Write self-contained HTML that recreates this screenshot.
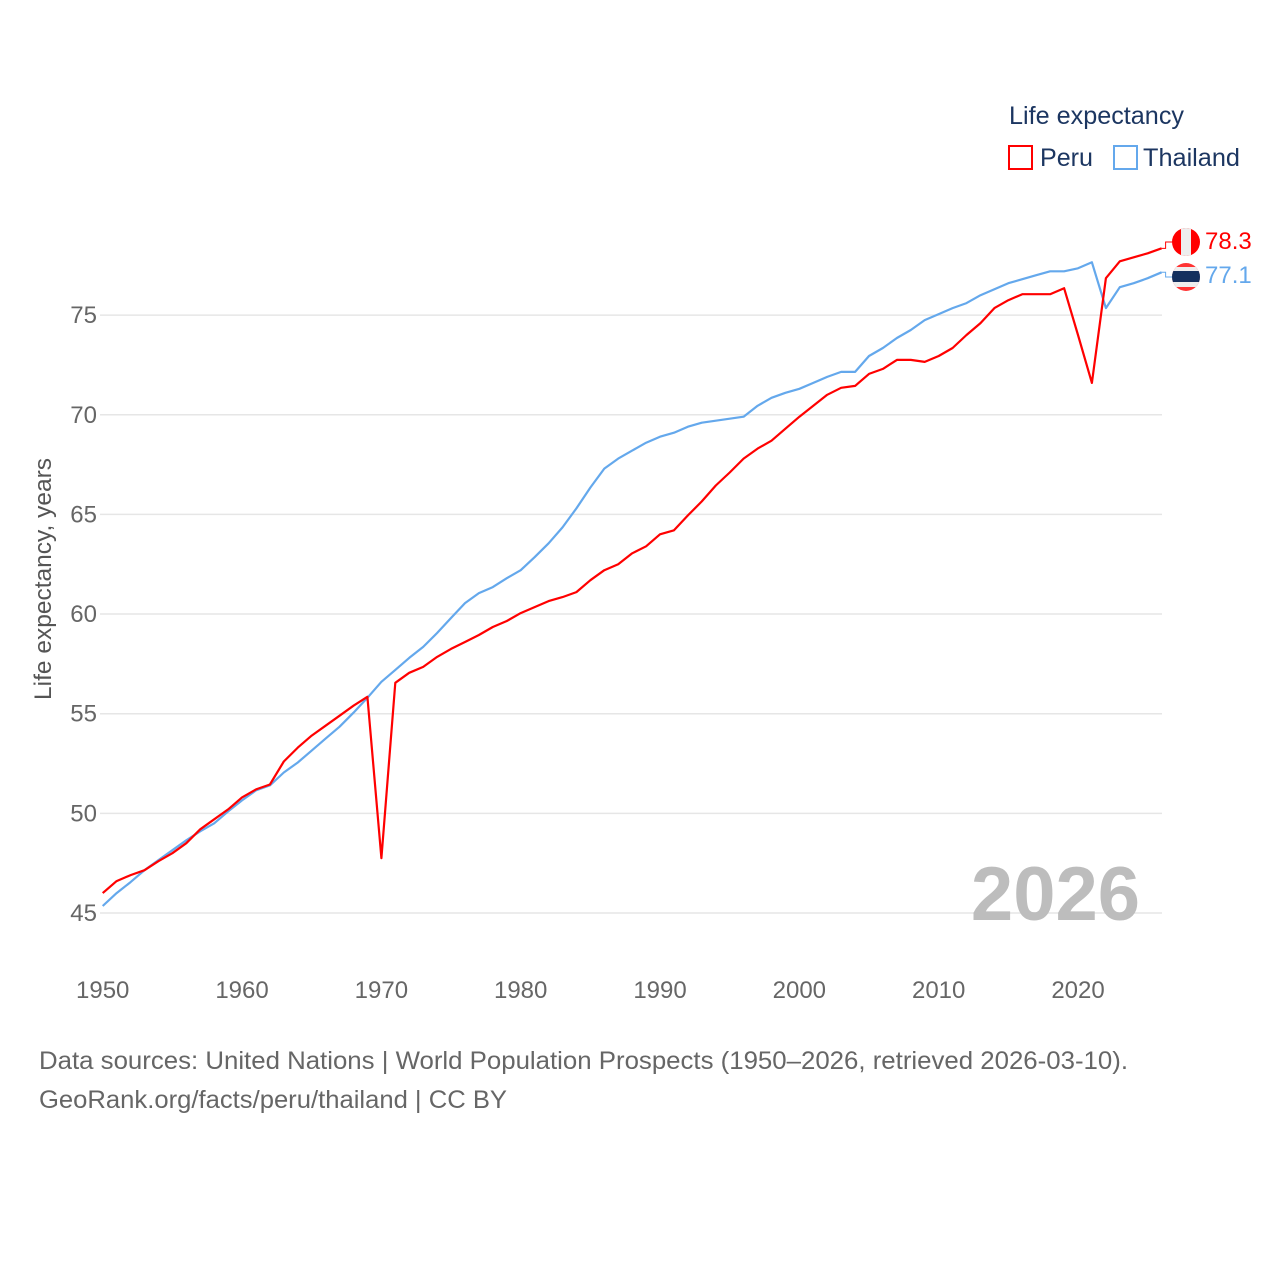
<!DOCTYPE html>
<html><head><meta charset="utf-8"><style>
body{margin:0;background:#fff;width:1280px;height:1280px;overflow:hidden;font-family:"Liberation Sans",sans-serif}
</style></head><body>
<svg id="chart" width="1280" height="1280" xmlns="http://www.w3.org/2000/svg" font-family="Liberation Sans, sans-serif">
<g id="grid"></g>
<g id="yticks"></g>
<g id="xticks"></g>
<text x="0" y="0" transform="translate(51,579) rotate(-90)" text-anchor="middle" font-size="24.5" fill="#555">Life expectancy, years</text>
<text x="1140" y="920" text-anchor="end" font-size="76" font-weight="bold" fill="#bdbdbd">2026</text>
<g id="series"></g>
<g>
<text x="1009" y="124" font-size="25" fill="#1c3661" textLength="175" lengthAdjust="spacingAndGlyphs">Life expectancy</text>
<rect x="1009" y="146" width="23" height="23" fill="#fff" stroke="#ff0000" stroke-width="2"/>
<text x="1040" y="166" font-size="25" fill="#1c3661" textLength="53" lengthAdjust="spacingAndGlyphs">Peru</text>
<rect x="1114" y="146" width="23" height="23" fill="#fff" stroke="#64a8ec" stroke-width="2"/>
<text x="1143" y="166" font-size="25" fill="#1c3661" textLength="97" lengthAdjust="spacingAndGlyphs">Thailand</text>
</g>
<g>
<clipPath id="c1"><circle cx="1186" cy="242" r="14"/></clipPath>
<g clip-path="url(#c1)"><rect x="1172" y="228" width="28" height="28" fill="#f00"/><rect x="1181" y="228" width="10" height="28" fill="#eee"/></g>
</g>
<g>
<clipPath id="c2"><circle cx="1186" cy="277" r="14"/></clipPath>
<g clip-path="url(#c2)"><rect x="1172" y="263" width="28" height="28" fill="#f33"/><rect x="1172" y="267" width="28" height="20" fill="#eee"/><rect x="1172" y="271" width="28" height="11" fill="#15305e"/></g>
</g>
<text x="1205" y="249" font-size="24" fill="#ff0000">78.3</text>
<text x="1205" y="283" font-size="24" fill="#64a8ec">77.1</text>
<text x="39" y="1069" font-size="25" fill="#666" textLength="1089" lengthAdjust="spacingAndGlyphs">Data sources: United Nations | World Population Prospects (1950–2026, retrieved 2026-03-10).</text>
<text x="39" y="1108" font-size="25" fill="#666" textLength="468" lengthAdjust="spacingAndGlyphs">GeoRank.org/facts/peru/thailand | CC BY</text>
</svg>
<script>
const years=[];for(let y=1950;y<=2026;y++)years.push(y);
const peru=[46.0,46.6,46.9,47.15,47.6,48.0,48.5,49.2,49.7,50.2,50.8,51.2,51.45,52.6,53.3,53.9,54.4,54.9,55.4,55.85,47.75,56.55,57.05,57.35,57.85,58.25,58.6,58.95,59.35,59.65,60.05,60.35,60.65,60.85,61.1,61.7,62.2,62.5,63.05,63.4,64.0,64.2,64.95,65.65,66.45,67.1,67.8,68.3,68.7,69.3,69.9,70.45,71.0,71.35,71.45,72.05,72.3,72.75,72.75,72.65,72.95,73.35,74.0,74.6,75.35,75.75,76.05,76.05,76.05,76.35,74.0,71.6,76.85,77.7,77.9,78.1,78.35];
const thailand=[45.35,46.0,46.55,47.15,47.65,48.15,48.65,49.1,49.5,50.1,50.65,51.15,51.4,52.05,52.55,53.15,53.75,54.35,55.05,55.8,56.6,57.2,57.8,58.35,59.05,59.8,60.55,61.05,61.35,61.8,62.2,62.85,63.55,64.35,65.3,66.35,67.3,67.8,68.2,68.6,68.9,69.1,69.4,69.6,69.7,69.8,69.9,70.45,70.85,71.1,71.3,71.6,71.9,72.15,72.15,72.95,73.35,73.85,74.25,74.75,75.05,75.35,75.6,76.0,76.3,76.6,76.8,77.0,77.2,77.2,77.35,77.65,75.35,76.4,76.6,76.85,77.15];
const yTicks=[45,50,55,60,65,70,75];
const xTicks=[1950,1960,1970,1980,1990,2000,2010,2020];
const X=y=>102.7+(y-1950)*13.933;
const Y=v=>913-(v-45)*19.93;
const NS="http://www.w3.org/2000/svg";
function mk(t,p,a){const e=document.createElementNS(NS,t);for(const k in a)e.setAttribute(k,a[k]);p.appendChild(e);return e;}
const grid=document.getElementById('grid'),yt=document.getElementById('yticks'),xt=document.getElementById('xticks'),ser=document.getElementById('series');
yTicks.forEach(v=>{
 const l=mk('line',grid,{x1:100,x2:1162,y1:Y(v),y2:Y(v),stroke:'#e6e6e6','stroke-width':1.5});
 
 
 const t=mk('text',yt,{x:97,y:Y(v)+8,'text-anchor':'end','font-size':24,fill:'#666'});t.textContent=v;
 
 
});
xTicks.forEach(v=>{
 const t=mk('text',xt,{x:X(v),y:998,'text-anchor':'middle','font-size':24,fill:'#666'});t.textContent=v;
 
 
});
function line(vals,color,name){
 const d=vals.map((v,i)=>(i?'L':'M')+X(years[i]).toFixed(1)+','+Y(v).toFixed(1)).join('');
 const p=mk('path',ser,{d:d,fill:'none',stroke:color,'stroke-width':2.2,'stroke-linejoin':'round'});
 
 
}
line(thailand,'#64a8ec','thailand-line');
line(peru,'#ff0000','peru-line');
const pe=peru[peru.length-1],th=thailand[thailand.length-1],xe=X(2026);
const c1=mk('path',ser,{d:`M${xe},${Y(pe)}H${xe+4}V242H1172`,fill:'none',stroke:'#ff0000','stroke-width':1});


const c2=mk('path',ser,{d:`M${xe},${Y(th)}H${xe+4}V277H1172`,fill:'none',stroke:'#64a8ec','stroke-width':1});


</script>
</body></html>
